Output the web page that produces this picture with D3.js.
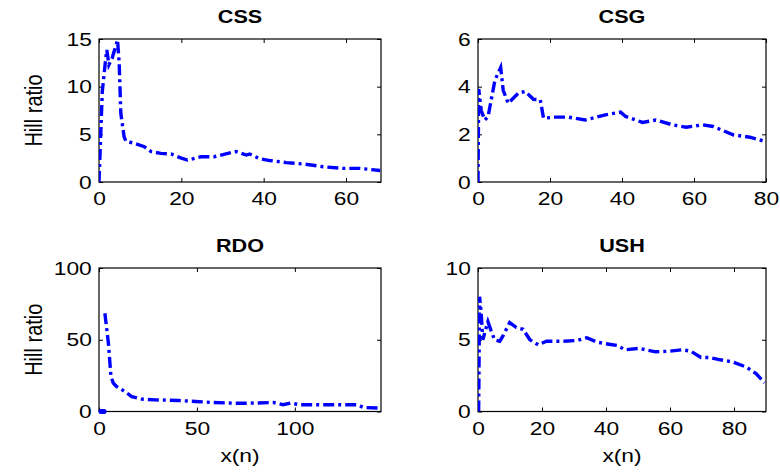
<!DOCTYPE html>
<html>
<head>
<meta charset="utf-8">
<script src="https://cdn.jsdelivr.net/npm/d3@7"></script>
<style>
  body { margin: 0; background: #fff; }
  text { font-family: "Liberation Sans", Arial, sans-serif; }
</style>
</head>
<body>
<div id="chart"></div>
<script>
// values
var cssX = [0, 0.8, 1.6, 1.9, 2.4, 3.2, 4.5, 4.9, 5.3, 6.1, 6.5, 8.5, 11, 12.6, 15, 17.5, 20, 21.5, 24.8, 28, 31.3, 33.3, 35.8, 36.6, 39, 41.5, 45.5, 49.6, 54.5, 59.3, 63.4, 68.3];
var cssY = [0, 9.5, 12.8, 13.85, 12.3, 13, 14.9, 12.5, 7.2, 4.75, 4.3, 4.06, 3.7, 3.2, 3.0, 2.94, 2.5, 2.3, 2.65, 2.65, 3.0, 3.2, 2.83, 2.94, 2.45, 2.25, 2.03, 1.89, 1.6, 1.43, 1.43, 1.2];

var csgX = [0, 0.2, 0.9, 1.9, 2.8, 4.7, 6.3, 7, 8.4, 11.2, 13.1, 15.4, 17.3, 18.2, 21.5, 23.3, 25.2, 29.8, 35.4, 39.6, 41, 45.7, 49.4, 54, 57.8, 62.5, 65.3, 70.9, 75.5, 80];
var csgY = [0, 3.9, 3.0, 2.6, 2.75, 4.27, 4.8, 3.85, 3.3, 3.73, 3.8, 3.47, 3.45, 2.68, 2.72, 2.72, 2.72, 2.6, 2.82, 2.93, 2.75, 2.5, 2.6, 2.4, 2.3, 2.4, 2.33, 1.98, 1.88, 1.69];

var rdoX = [3, 4.8, 6.1, 7.3, 9, 13.3, 16.7, 21.8, 28.7, 40.6, 49.2, 57.7, 68, 77, 89, 94, 97.7, 102.9, 120, 132, 135, 143.6];
var rdoY = [68.5, 47.6, 24.4, 19.8, 17.4, 13.9, 10.4, 8.6, 8.1, 7.7, 7, 6.3, 5.8, 5.8, 6.3, 4.7, 5.8, 4.7, 4.7, 4.7, 2.8, 2.4];
var rdoStartX = [1, 2.6];
var rdoStartY = [0, 0];

var ushX = [0.2, 0.5, 1, 1.5, 3.1, 4.2, 5.2, 6.8, 7.8, 9.9, 12, 14.1, 16.2, 18.8, 21.4, 26.7, 30.9, 34, 37.2, 41.4, 43.5, 46, 50.3, 55.5, 59.7, 63.9, 66.5, 69.7, 72.3, 75.4, 79.6, 83.8, 86.9, 89.5];
var ushY = [0, 8.0, 6.85, 5.0, 6.26, 5.56, 5.0, 4.9, 5.26, 6.2, 5.85, 5.73, 5.0, 4.65, 4.9, 4.9, 4.95, 5.14, 4.83, 4.67, 4.6, 4.3, 4.4, 4.16, 4.2, 4.3, 4.2, 3.76, 3.76, 3.62, 3.45, 3.1, 2.64, 2.0];

var titles = ["CSS", "CSG", "RDO", "USH"];
var xTickSets = [[0, 20, 40, 60], [0, 20, 40, 60, 80], [0, 50, 100], [0, 20, 40, 60, 80]];
var yTickSets = [[0, 5, 10, 15], [0, 2, 4, 6], [0, 50, 100], [0, 5, 10]];

var svg = d3.select("#chart").append("svg")
  .attr("width", 780)
  .attr("height", 473);

// the original figure is a bit wider than tall, so text is stretched sideways
var stretch = "scale(1.2,1)";

// panel boxes (pixels) and their axis ranges
var panels = [
  { box: [99, 39, 381, 182], xMax: 68.5, yMax: 15, xs: cssX, ys: cssY, ylab: true, xlab: false },
  { box: [478, 39, 766, 182], xMax: 80, yMax: 6, xs: csgX, ys: csgY, ylab: false, xlab: false },
  { box: [99, 268, 381, 411.5], xMax: 144, yMax: 100, xs: rdoX, ys: rdoY, ylab: true, xlab: true },
  { box: [478, 268, 766, 411.5], xMax: 90, yMax: 10, xs: ushX, ys: ushY, ylab: false, xlab: true }
];

panels.forEach(function(p, i) {
  var left = p.box[0], top = p.box[1], right = p.box[2], bottom = p.box[3];

  var xScale = d3.scaleLinear().domain([0, p.xMax]).range([left, right]);
  var yScale = d3.scaleLinear().domain([0, p.yMax]).range([bottom, top]);

  var g = svg.append("g");

  // clip so the line stays inside the box
  svg.append("clipPath").attr("id", "clip" + i)
    .append("rect")
    .attr("x", left).attr("y", top - 2)
    .attr("width", right - left).attr("height", bottom - top + 2);

  // bottom and left axes with inward ticks
  g.append("g")
    .attr("transform", "translate(0," + bottom + ")")
    .call(d3.axisBottom(xScale).tickValues(xTickSets[i]).tickFormat(d3.format("d"))
      .tickSizeInner(-4).tickSizeOuter(0).tickPadding(10))
    .call(function(a) {
      a.select(".domain").remove();
      a.selectAll("text").style("font-size", "19px").attr("fill", "#000")
        .attr("transform", stretch);
    });
  g.append("g")
    .attr("transform", "translate(" + left + ",0)")
    .call(d3.axisLeft(yScale).tickValues(yTickSets[i]).tickFormat(d3.format("d"))
      .tickSizeInner(-4).tickSizeOuter(0).tickPadding(6))
    .call(function(a) {
      a.select(".domain").remove();
      a.selectAll("text").style("font-size", "19px").attr("fill", "#000")
        .attr("transform", stretch);
    });

  // mirrored ticks on top and right
  g.append("g")
    .attr("transform", "translate(0," + top + ")")
    .call(d3.axisTop(xScale).tickValues(xTickSets[i]).tickSizeInner(-4).tickSizeOuter(0).tickFormat(""))
    .select(".domain").remove();
  g.append("g")
    .attr("transform", "translate(" + right + ",0)")
    .call(d3.axisRight(yScale).tickValues(yTickSets[i]).tickSizeInner(-4).tickSizeOuter(0).tickFormat(""))
    .select(".domain").remove();

  // box
  g.append("rect")
    .attr("x", left).attr("y", top)
    .attr("width", right - left).attr("height", bottom - top)
    .attr("fill", "none").attr("stroke", "#000").attr("stroke-width", 1.2);

  var line = d3.line()
    .x(function(d) { return xScale(d[0]); })
    .y(function(d) { return yScale(d[1]); });

  var pts = p.xs.map(function(x, k) { return [x, p.ys[k]]; });

  g.append("path")
    .attr("clip-path", "url(#clip" + i + ")")
    .attr("d", line(pts))
    .attr("fill", "none")
    .attr("stroke", "#0000ff")
    .attr("stroke-width", 3.4)
    .attr("stroke-dasharray", "11,4,3,4");

  if (titles[i] === "RDO") {
    var startPts = rdoStartX.map(function(x, k) { return [x, rdoStartY[k]]; });
    g.append("path")
      .attr("d", line(startPts))
      .attr("fill", "none")
      .attr("stroke", "#0000ff")
      .attr("stroke-width", 5)
      .attr("stroke-linecap", "round");
  }

  // title
  g.append("text")
    .attr("transform", "translate(" + ((left + right) / 2) + "," + (top - 16) + ") " + stretch)
    .attr("text-anchor", "middle")
    .style("font-size", "18px")
    .style("font-weight", "bold")
    .text(titles[i]);

  if (p.ylab) {
    g.append("text")
      .attr("transform", "translate(" + (left - 57) + "," + ((top + bottom) / 2) + ") rotate(-90) scale(1,1.15)")
      .attr("text-anchor", "middle")
      .style("font-size", "20px")
      .text("Hill ratio");
  }
  if (p.xlab) {
    g.append("text")
      .attr("transform", "translate(" + ((left + right) / 2) + "," + (bottom + 50) + ") " + stretch)
      .attr("text-anchor", "middle")
      .style("font-size", "19px")
      .text("x(n)");
  }
});
</script>
</body>
</html>
